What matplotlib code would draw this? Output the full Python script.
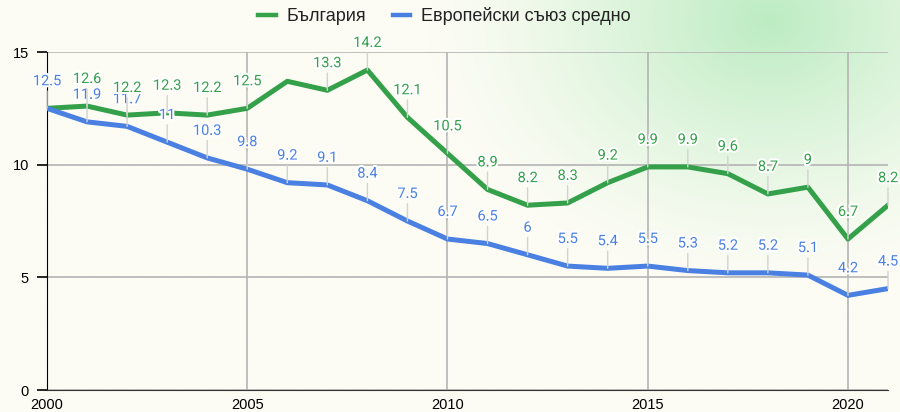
import matplotlib.pyplot as plt
import matplotlib.patheffects as pe
import numpy as np

years = list(range(2000, 2022))
bulgaria = [12.5, 12.6, 12.2, 12.3, 12.2, 12.5, 13.7, 13.3, 14.2, 12.1, 10.5,
            8.9, 8.2, 8.3, 9.2, 9.9, 9.9, 9.6, 8.7, 9.0, 6.7, 8.2]
eu_avg = [12.5, 11.9, 11.7, 11.0, 10.3, 9.8, 9.2, 9.1, 8.4, 7.5, 6.7,
          6.5, 6.0, 5.5, 5.4, 5.5, 5.3, 5.2, 5.2, 5.1, 4.2, 4.5]
bg_name = "България"
eu_name = "Европейски съюз средно"
bg_hidden = [2000, 2006]  # labels the original chart does not show

GREEN = "#34a04a"
BLUE = "#4a80e2"

fig = plt.figure(figsize=(9, 4.12), dpi=100)
fig.patch.set_facecolor("#fcfcf4")

# soft green glow in the top right corner
bg = fig.add_axes([0, 0, 1, 1], zorder=0)
gx, gy = np.meshgrid(np.linspace(0, 900, 300), np.linspace(0, 412, 140))
d = np.sqrt((gx - 770) ** 2 + ((gy - 20) * 1.3) ** 2)
w = np.clip(1 - d / 340, 0, 1) ** 1.3
base = np.array([252, 252, 244]) / 255
glow = np.array([188, 236, 194]) / 255
img = base[None, None, :] * (1 - w[..., None]) + glow[None, None, :] * w[..., None]
bg.imshow(img, extent=[0, 900, 412, 0], aspect="auto")
bg.axis("off")

ax = fig.add_axes([47 / 900, 22 / 412, 841 / 900, 338 / 412], zorder=1)
ax.patch.set_alpha(0)

ax.plot(years, bulgaria, color=GREEN, lw=3.6, solid_joinstyle="round", zorder=4, label=bg_name)
ax.plot(years, eu_avg, color=BLUE, lw=3.6, solid_joinstyle="round", zorder=4, label=eu_name)

halo = [pe.withStroke(linewidth=3, foreground="white")]
for series, color, skip in [(eu_avg, BLUE, []), (bulgaria, GREEN, bg_hidden)]:
    for x, y in zip(years, series):
        if x in skip:
            continue
        txt = f"{y:g}"
        ax.annotate(txt, (x, y), xytext=(0, 19.5), textcoords="offset points",
                    ha="center", va="center", color=color, fontsize=10.5,
                    family="Roboto", path_effects=halo, zorder=6, annotation_clip=False,
                    arrowprops=dict(arrowstyle="-", color="#d2d2d2", lw=1,
                                    shrinkA=0, shrinkB=0))

ax.set_xlim(2000, 2021)
ax.set_ylim(0, 15)
ax.set_yticks([0, 5, 10, 15])
ax.set_xticks([2000, 2005, 2010, 2015, 2020])
ax.grid(True, color="#b4b4b4", lw=1.2)
ax.set_axisbelow(True)
for s in ["top", "right"]:
    ax.spines[s].set_visible(False)
ax.spines["left"].set_color("black")
ax.spines["bottom"].set_color("#333333")
ax.tick_params(axis="y", length=7, width=1.2, labelsize=10.5, pad=6)
ax.tick_params(axis="x", length=0, labelsize=10.5, pad=6)
for lab in ax.get_xticklabels() + ax.get_yticklabels():
    lab.set_family("Liberation Sans")

leg = fig.legend(loc="center", bbox_to_anchor=(0.494, 1 - 16 / 412), ncol=2, frameon=False,
                 prop={"family": "Liberation Sans", "size": 13}, handlelength=0.95,
                 columnspacing=1.5, handletextpad=0.6)
for h in leg.legend_handles:
    h.set_linewidth(3.2)
for t in leg.get_texts():
    t.set_color("#222222")

fig.savefig("out.png", dpi=100)
